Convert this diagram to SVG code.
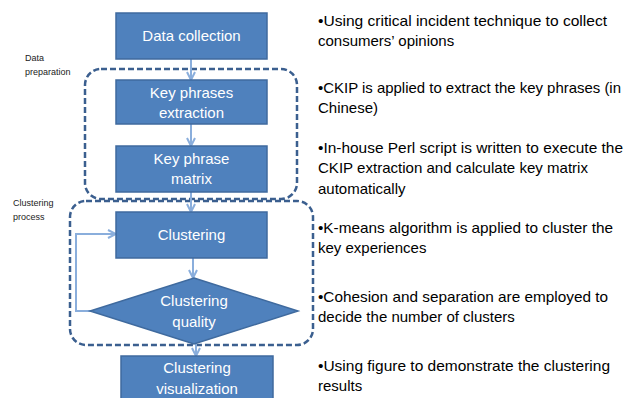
<svg xmlns="http://www.w3.org/2000/svg" width="631" height="398" viewBox="0 0 631 398">
<defs>
<style>
.box{fill:#4F81BD;stroke:#3F6A9E;stroke-width:1.5}
.bt{font-family:"Liberation Sans",Arial,sans-serif;font-size:15px;fill:#FFFFFF;text-anchor:middle}
.grp{fill:none;stroke:#3B5F8F;stroke-width:2.5;stroke-dasharray:6 3}
.con{fill:none;stroke:#8AAEDC;stroke-width:2}
.side{font-family:"Liberation Sans",Arial,sans-serif;font-size:15px;fill:#000000}
.lab{font-family:"Liberation Sans",Arial,sans-serif;font-size:9px;fill:#222222}
</style>
<marker id="ah" viewBox="0 0 10 10" refX="9" refY="5" markerWidth="5" markerHeight="5" orient="auto">
<path d="M1,1 L9,5 L1,9" fill="none" stroke="#8AAEDC" stroke-width="2"/>
</marker>
</defs>
<rect width="631" height="398" fill="#FFFFFF"/>

<g id="group-data-preparation">
<rect class="grp" x="85" y="69" width="212" height="130" rx="16"/>
<text class="lab" x="25" y="61">Data</text>
<text class="lab" x="25" y="75">preparation</text>
</g>
<g id="group-clustering-process">
<rect class="grp" x="70" y="201" width="243" height="144" rx="16"/>
<text class="lab" x="13" y="206">Clustering</text>
<text class="lab" x="13" y="220">process</text>
</g>

<g id="connectors">
<line class="con" x1="191" y1="59" x2="191" y2="80" marker-end="url(#ah)"/>
<line class="con" x1="191" y1="124" x2="191" y2="146" marker-end="url(#ah)"/>
<line class="con" x1="191" y1="192" x2="191" y2="212" marker-end="url(#ah)"/>
<line class="con" x1="193" y1="258" x2="193" y2="278" marker-end="url(#ah)"/>
<line class="con" x1="196" y1="344" x2="196" y2="356" marker-end="url(#ah)"/>
<polyline class="con" points="92,311 76,311 76,234 116,234" marker-end="url(#ah)"/>
</g>

<g id="node-data-collection">
<rect class="box" x="116" y="13" width="151" height="46"/>
<text class="bt" x="191.5" y="41">Data collection</text>
</g>
<g id="node-key-phrases-extraction">
<rect class="box" x="116" y="80" width="151" height="44"/>
<text class="bt" x="191.5" y="98">Key phrases</text>
<text class="bt" x="191.5" y="118">extraction</text>
</g>
<g id="node-key-phrase-matrix">
<rect class="box" x="116" y="146" width="151" height="46"/>
<text class="bt" x="191.5" y="164">Key phrase</text>
<text class="bt" x="191.5" y="184">matrix</text>
</g>
<g id="node-clustering">
<rect class="box" x="116" y="212" width="151" height="46"/>
<text class="bt" x="191.5" y="240">Clustering</text>
</g>
<g id="node-clustering-quality">
<polygon class="box" points="194,278 298,311 194,344 90,311"/>
<text class="bt" x="194" y="306">Clustering</text>
<text class="bt" x="194" y="327">quality</text>
</g>
<g id="node-clustering-visualization">
<rect class="box" x="121" y="356" width="152" height="46"/>
<text class="bt" x="197" y="373">Clustering</text>
<text class="bt" x="197" y="394">visualization</text>
</g>

<g id="notes">
<text class="side" x="318" y="26" textLength="289" lengthAdjust="spacingAndGlyphs">•Using critical incident technique to collect</text>
<text class="side" x="318" y="46">consumers’ opinions</text>
<text class="side" x="318" y="93" textLength="303" lengthAdjust="spacingAndGlyphs">•CKIP is applied to extract the key phrases (in</text>
<text class="side" x="318" y="113">Chinese)</text>
<text class="side" x="318" y="153" textLength="305" lengthAdjust="spacingAndGlyphs">•In-house Perl script is written to execute the</text>
<text class="side" x="318" y="173" textLength="270" lengthAdjust="spacingAndGlyphs">CKIP extraction and calculate key matrix</text>
<text class="side" x="318" y="194">automatically</text>
<text class="side" x="318" y="233" textLength="295" lengthAdjust="spacingAndGlyphs">•K-means algorithm is applied to cluster the</text>
<text class="side" x="318" y="253">key experiences</text>
<text class="side" x="318" y="302" textLength="290" lengthAdjust="spacingAndGlyphs">•Cohesion and separation are employed to</text>
<text class="side" x="318" y="322">decide the number of clusters</text>
<text class="side" x="318" y="371" textLength="292" lengthAdjust="spacingAndGlyphs">•Using figure to demonstrate the clustering</text>
<text class="side" x="318" y="391">results</text>
</g>
</svg>
